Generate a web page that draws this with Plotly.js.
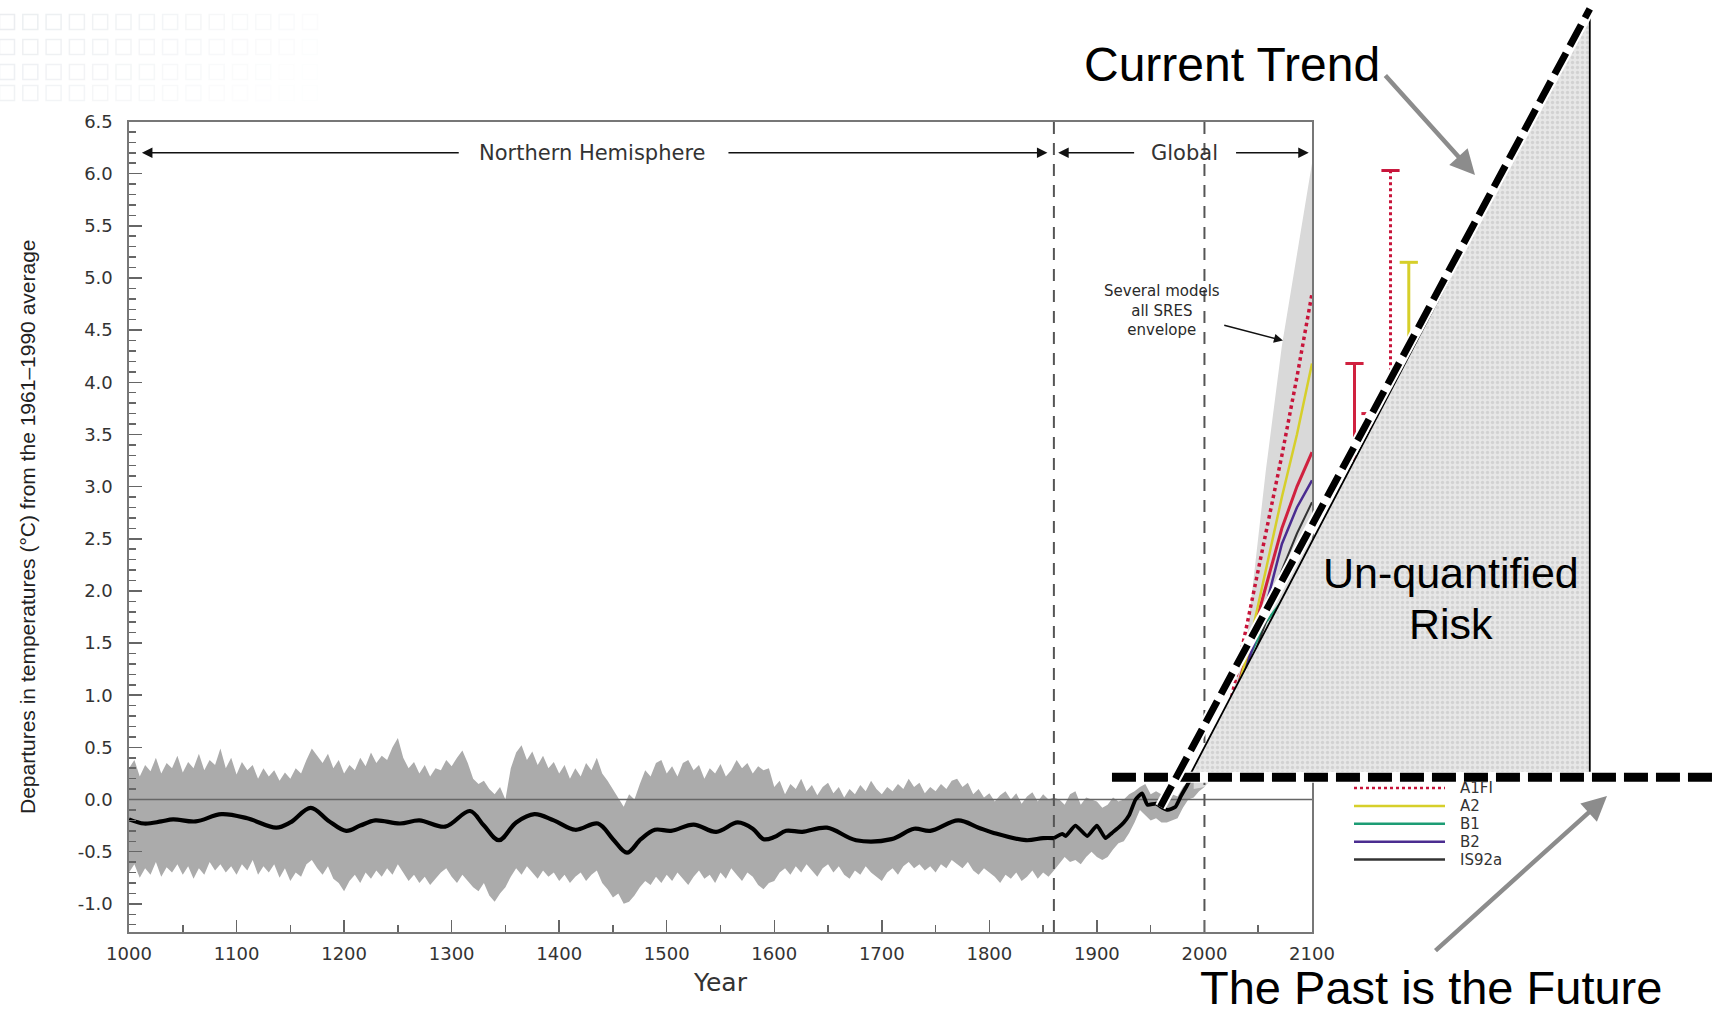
<!DOCTYPE html>
<html><head><meta charset="utf-8">
<script src="https://cdn.plot.ly/plotly-3.0.1.min.js"></script>
<style>html,body{margin:0;padding:0;background:#fff;}#chart{width:1716px;height:1016px;}</style>
</head><body><div id="chart"></div>
<script>
// ---------------- DATA ----------------
// Uncertainty band (Northern Hemisphere reconstruction 1000-1860, instrumental 1865-2000), 5-year steps
const bandStart = 1000, bandStep = 5;
const bandUpper = [
 0.30,0.38,0.22,0.33,0.27,0.40,0.25,0.35,0.30,0.42,0.26,0.36,0.30,0.44,0.28,0.38,0.33,0.49,0.30,0.40,
 0.24,0.36,0.28,0.33,0.20,0.30,0.22,0.28,0.18,0.26,0.20,0.30,0.25,0.38,0.49,0.42,0.35,0.44,0.30,0.38,
 0.25,0.33,0.28,0.40,0.32,0.45,0.35,0.42,0.38,0.50,0.59,0.40,0.30,0.36,0.25,0.33,0.22,0.30,0.28,0.38,
 0.32,0.40,0.47,0.35,0.20,0.15,0.18,0.10,0.05,0.12,0.00,0.30,0.45,0.52,0.38,0.46,0.33,0.42,0.30,0.36,
 0.25,0.33,0.20,0.30,0.22,0.35,0.28,0.40,0.25,0.18,0.10,0.02,-0.07,0.05,0.00,0.15,0.28,0.22,0.35,0.38,
 0.25,0.32,0.22,0.35,0.38,0.28,0.33,0.20,0.30,0.25,0.34,0.22,0.28,0.38,0.30,0.35,0.25,0.32,0.28,0.30,
 0.12,0.18,0.05,0.15,0.10,0.20,0.08,0.14,0.04,0.12,0.16,0.06,0.12,0.02,0.10,0.05,0.14,0.08,0.18,0.10,
 0.05,0.12,0.08,0.15,0.10,0.20,0.12,0.16,0.06,0.12,0.08,0.15,0.10,0.18,0.20,0.12,0.16,0.05,0.10,0.02,
 0.06,-0.02,0.04,0.08,0.00,0.06,-0.04,0.03,0.07,-0.02,0.05,0.00,0.02,0.00,-0.05,0.05,0.08,-0.05,0.02,0.00,
 -0.02,-0.08,-0.05,0.02,-0.02,0.00,0.05,0.08,0.12,0.15,0.05,0.08,0.05,0.02,0.05,0.03,0.12,0.18,0.25,0.30,
 0.32];
const bandLower = [
 -0.70,-0.62,-0.75,-0.66,-0.72,-0.60,-0.74,-0.65,-0.70,-0.62,-0.72,-0.64,-0.76,-0.66,-0.72,-0.60,-0.68,-0.62,-0.70,-0.64,
 -0.72,-0.62,-0.68,-0.58,-0.72,-0.64,-0.70,-0.62,-0.75,-0.66,-0.78,-0.70,-0.74,-0.62,-0.58,-0.66,-0.72,-0.64,-0.76,-0.80,
 -0.88,-0.78,-0.72,-0.80,-0.70,-0.76,-0.68,-0.74,-0.66,-0.72,-0.62,-0.70,-0.78,-0.72,-0.80,-0.74,-0.82,-0.76,-0.70,-0.66,
 -0.74,-0.80,-0.72,-0.78,-0.84,-0.88,-0.80,-0.92,-0.98,-0.90,-0.84,-0.74,-0.66,-0.72,-0.64,-0.70,-0.76,-0.68,-0.74,-0.70,
 -0.78,-0.72,-0.80,-0.74,-0.70,-0.78,-0.72,-0.68,-0.80,-0.86,-0.94,-0.90,-1.00,-0.98,-0.92,-0.84,-0.78,-0.82,-0.74,-0.80,
 -0.72,-0.78,-0.70,-0.76,-0.82,-0.74,-0.68,-0.76,-0.72,-0.80,-0.70,-0.76,-0.66,-0.72,-0.78,-0.70,-0.74,-0.82,-0.86,-0.80,
 -0.78,-0.70,-0.66,-0.72,-0.64,-0.70,-0.62,-0.68,-0.74,-0.66,-0.62,-0.70,-0.64,-0.72,-0.76,-0.68,-0.72,-0.64,-0.70,-0.74,
 -0.78,-0.70,-0.66,-0.72,-0.64,-0.60,-0.66,-0.62,-0.68,-0.64,-0.70,-0.62,-0.66,-0.58,-0.62,-0.66,-0.60,-0.68,-0.72,-0.66,
 -0.70,-0.74,-0.80,-0.72,-0.76,-0.70,-0.78,-0.74,-0.68,-0.76,-0.70,-0.74,-0.68,-0.62,-0.55,-0.60,-0.58,-0.62,-0.55,-0.50,
 -0.55,-0.58,-0.55,-0.48,-0.42,-0.40,-0.32,-0.22,-0.10,-0.15,-0.20,-0.18,-0.22,-0.22,-0.20,-0.18,-0.08,0.00,0.02,0.08,
 0.12];
const bandYears = bandUpper.map((_, i) => bandStart + i * bandStep);

// Smoothed reconstruction (black line)
const reconYears = [1000,1014,1030,1041,1062,1086,1110,1137,1150,1169,1185,1202,1215,1229,1252,1270,1294,1317,1330,1344,1360,1377,1395,1415,1436,1450,1463,1476,1489,1504,1525,1546,1566,1580,1590,1600,1611,1626,1649,1676,1709,1730,1745,1771,1790,1804,1834,1850,1860];
const reconVals  = [-0.19,-0.23,-0.21,-0.19,-0.21,-0.14,-0.18,-0.27,-0.22,-0.08,-0.20,-0.30,-0.25,-0.20,-0.23,-0.20,-0.26,-0.11,-0.25,-0.39,-0.22,-0.14,-0.20,-0.29,-0.23,-0.38,-0.51,-0.38,-0.29,-0.30,-0.24,-0.31,-0.22,-0.28,-0.38,-0.36,-0.30,-0.31,-0.27,-0.39,-0.38,-0.28,-0.30,-0.20,-0.27,-0.32,-0.39,-0.37,-0.37];
// Instrumental record
const instYears = [1860,1868,1871,1880,1891,1900,1908,1914,1920,1925,1930,1936,1942,1947,1955,1961,1966,1973,1978,1983,1987,1995,2000];
const instVals  = [-0.37,-0.33,-0.35,-0.25,-0.35,-0.25,-0.37,-0.32,-0.27,-0.22,-0.15,0.00,0.06,-0.05,-0.04,-0.08,-0.10,-0.07,0.03,0.12,0.19,0.25,0.32];

// Several models, all SRES envelope
const envYears = [1990,2000,2020,2040,2057,2072,2100];
const envUpper = [0.25,0.32,0.75,1.60,3.15,4.35,6.10];
const envLower = [0.10,0.12,0.35,0.65,0.90,1.10,1.40];

// Scenario projections
const scenYears = [2000,2020,2040,2057,2072,2086,2100];
const scenA1FI  = [0.30,0.72,1.70,2.55,3.30,4.05,4.85];
const scenA2    = [0.30,0.65,1.40,2.20,2.90,3.50,4.18];
const scenA1B   = [0.30,0.70,1.40,2.05,2.60,3.00,3.33];
const scenB2    = [0.30,0.62,1.30,1.85,2.45,2.80,3.06];
const scenIS92a = [0.30,0.60,1.20,1.70,2.20,2.55,2.85];
const scenB1    = [0.30,0.72,1.33,1.70,1.90,2.00,2.10];

// Range bars for 2100 (right of the panel)
const barYears  = [2139.5,2154.4,2173,2190];
const barTop    = [4.18,3.70,6.03,5.15];
const barBottom = [2.60,2.30,3.30,2.90];

// Legend
const legendLabels = ['A1FI','A2','B1','B2','IS92a'];

// Overlay ("Current Trend" / "Past is the Future")
const triX = [1985.7,2358.3,2358.3];
const triY = [0.22,7.57,0.22];
const trendX = [1959,2358.3];
const trendY = [-0.07,7.58];
const flatStartYear = 1914;
const flatLevel = 0.213;

const dividerYears = [1860,2000];
const yTickVals = [-1.0,-0.5,0.0,0.5,1.0,1.5,2.0,2.5,3.0,3.5,4.0,4.5,5.0,5.5,6.0,6.5];
const yTickText = ['-1.0','-0.5','0.0','0.5','1.0','1.5','2.0','2.5','3.0','3.5','4.0','4.5','5.0','5.5','6.0','6.5'];

// ---------------- LAYOUT GEOMETRY ----------------
const W = 1716, H = 1016;
const box = {l:129, r:1312, t:121.5, b:932};
const xRange = [1000,2100], yRange = [-1.27,6.5];
const xDom = [box.l/W, box.r/W], yDom = [1-box.b/H, 1-box.t/H];
const xsc = (xRange[1]-xRange[0])/(xDom[1]-xDom[0]);
const ysc = (yRange[1]-yRange[0])/(yDom[1]-yDom[0]);
const x2Range = [xRange[0]-xDom[0]*xsc, xRange[1]+(1-xDom[1])*xsc];
const y2Range = [yRange[0]-yDom[0]*ysc, yRange[1]+(1-yDom[1])*ysc];
const pxX = px => x2Range[0] + px/W*(x2Range[1]-x2Range[0]);
const pxY = py => y2Range[1] - py/H*(y2Range[1]-y2Range[0]);
const papX = px => px/W, papY = py => 1-py/H;

const red = '#d0213f', redDot = '#c8143a', yellow = '#d6cf2a', green = '#1c9c74', purple = '#4a2c90', dark = '#333333';

const traces = [];
const skip = {hoverinfo:'skip', showlegend:false};

// band
traces.push(Object.assign({x:bandYears, y:bandLower, mode:'lines', line:{width:0,color:'#ababab'}}, skip));
traces.push(Object.assign({x:bandYears, y:bandUpper, mode:'lines', line:{width:0,color:'#ababab'}, fill:'tonexty', fillcolor:'#ababab'}, skip));
// envelope
traces.push(Object.assign({x:envYears, y:envLower, mode:'lines', line:{width:0,color:'#d8d8d8'}}, skip));
traces.push(Object.assign({x:envYears, y:envUpper, mode:'lines', line:{width:0,color:'#d8d8d8'}, fill:'tonexty', fillcolor:'#d9d9d9'}, skip));
// zero line
traces.push(Object.assign({x:xRange, y:[0,0], mode:'lines', line:{width:1.5,color:'#666'}}, skip));
// dividers
dividerYears.forEach(yr => traces.push(Object.assign({x:[yr,yr], y:yRange, mode:'lines', line:{width:2,color:'#555',dash:'12px,9px'}}, skip)));
// scenario lines
const scen = [
  [scenB1, green, 'solid', 2.5], [scenIS92a, dark, 'solid', 2], [scenB2, purple, 'solid', 2.5],
  [scenA1B, red, 'solid', 3], [scenA2, yellow, 'solid', 2.5], [scenA1FI, redDot, 'dot', 3.5]
];
scen.forEach(s => traces.push(Object.assign({x:scenYears, y:s[0], mode:'lines', line:{width:s[3], color:s[1], dash:s[2]}}, skip)));
// reconstruction + instrumental
traces.push(Object.assign({x:reconYears, y:reconVals, mode:'lines', line:{width:4.2,color:'#000',shape:'spline',smoothing:1}}, skip));
traces.push(Object.assign({x:instYears, y:instVals, mode:'lines', line:{width:3.8,color:'#000',shape:'spline',smoothing:0.5}}, skip));

// ---------- overlay (x2/y2 span the whole page) ----------
const ov = {xaxis:'x2', yaxis:'y2'};
// faint slide-background squares (top-left)
const sqX = [], sqY = [], sqC = [];
[22,47,72,93].forEach((ry, r) => {
  for (let c = 0; c < 14; c++) {
    const a = Math.max(0.04, 0.5 - c*0.03 - r*0.04);
    sqX.push(pxX(7 + 23.3*c)); sqY.push(pxY(ry));
    sqC.push('rgba(215,220,226,' + a.toFixed(3) + ')');
  }
});
traces.push(Object.assign({x:sqX, y:sqY, mode:'markers', marker:{symbol:'square-open', size:15, color:sqC, line:{width:1.5}}}, ov, skip));

// range bars
const barColors = [red, red, redDot, yellow];
const barDash = ['solid','solid','dot','solid'];
barYears.forEach((yr, i) => {
  traces.push(Object.assign({x:[yr,yr], y:[barBottom[i], barTop[i]], mode:'lines', line:{width:3, color:barColors[i], dash:barDash[i]}}, ov, skip));
  traces.push(Object.assign({x:[yr], y:[barTop[i]], mode:'markers', marker:{symbol:'line-ew', size:13, line:{width:3, color:barColors[i]}}}, ov, skip));
});

// legend lines
const legColors = [redDot, yellow, green, purple, dark];
const legDash = ['dot','solid','solid','solid','solid'];
const legTop = 788, legStep = 17.9, legX0 = 1354, legX1 = 1445, legTextX = 1459;
legendLabels.forEach((lab, i) => {
  const yy = pxY(legTop + i*legStep);
  traces.push(Object.assign({x:[pxX(legX0), pxX(legX1)], y:[yy,yy], mode:'lines', line:{width:2.5, color:legColors[i], dash:legDash[i]}}, ov, skip));
});

// triangle
traces.push(Object.assign({x:triX.concat([triX[0]]), y:triY.concat([triY[0]]), mode:'lines', line:{width:0,color:'#e4e4e4'}, fill:'toself', fillcolor:'#e4e4e4',
  fillpattern:{shape:'.', bgcolor:'#e7e7e7', fgcolor:'#d2d2d2', size:5, solidity:0.35}}, ov, skip));
traces.push(Object.assign({x:triX, y:triY, mode:'lines', line:{width:1.8,color:'#000'}}, ov, skip));
// flat "past is the future" line
traces.push(Object.assign({x:[flatStartYear, x2Range[1]], y:[flatLevel, flatLevel], mode:'lines', line:{width:11,color:'#fff'}}, ov, skip));
traces.push(Object.assign({x:[flatStartYear, x2Range[1]], y:[flatLevel, flatLevel], mode:'lines', line:{width:9,color:'#000',dash:'24px,8px'}}, ov, skip));
// current trend line
traces.push(Object.assign({x:trendX, y:trendY, mode:'lines', line:{width:11,color:'#fff'}}, ov, skip));
traces.push(Object.assign({x:trendX, y:trendY, mode:'lines', line:{width:7,color:'#000',dash:'24px,8px'}}, ov, skip));

// ---------------- ANNOTATIONS ----------------
const ann = [];
const arrowY = 6.2;
const arrows = [[1012,1308],[1854,1556],[1864,1936],[2097,2028]];
arrows.forEach(a => ann.push({xref:'x', yref:'y', axref:'x', ayref:'y', x:a[0], y:arrowY, ax:a[1], ay:arrowY, text:'', showarrow:true, arrowhead:2, arrowsize:1.4, arrowwidth:1.5, arrowcolor:'#111'}));
const labFont = {family:'DejaVu Sans', size:21, color:'#333'};
ann.push({xref:'x', yref:'y', x:1431, y:arrowY, text:'Northern Hemisphere', showarrow:false, font:labFont});
ann.push({xref:'x', yref:'y', x:1981, y:arrowY, text:'Global', showarrow:false, font:labFont});
ann.push({xref:'paper', yref:'paper', x:papX(1162), y:papY(310), text:'Several models<br>all SRES<br>envelope', showarrow:false, xanchor:'center', yanchor:'middle', align:'center', borderpad:0, font:{family:'DejaVu Sans', size:15, color:'#2a2a2a'}});
ann.push({xref:'x', yref:'y', axref:'x', ayref:'y', x:2073, y:4.40, ax:2017, ay:4.55, text:'', showarrow:true, arrowhead:2, arrowsize:1.2, arrowwidth:1.5, arrowcolor:'#111'});
legendLabels.forEach((lab, i) => ann.push({xref:'paper', yref:'paper', x:papX(legTextX), y:papY(legTop + i*legStep), text:lab, showarrow:false, xanchor:'left', yanchor:'middle', borderpad:0, font:{family:'DejaVu Sans', size:15, color:'#333'}}));
ann.push({xref:'paper', yref:'paper', x:papX(1232), y:papY(64), text:'Current Trend', showarrow:false, xanchor:'center', yanchor:'middle', font:{family:'Liberation Sans', size:48, color:'#000'}});
ann.push({xref:'paper', yref:'paper', x:papX(1451), y:papY(573), text:'Un-quantified', showarrow:false, xanchor:'center', yanchor:'middle', font:{family:'Liberation Sans', size:43, color:'#000'}});
ann.push({xref:'paper', yref:'paper', x:papX(1451), y:papY(624), text:'Risk', showarrow:false, xanchor:'center', yanchor:'middle', font:{family:'Liberation Sans', size:43, color:'#000'}});
ann.push({xref:'paper', yref:'paper', x:papX(1431), y:papY(1015), text:'The Past is the Future', showarrow:false, xanchor:'center', yanchor:'bottom', borderpad:0, font:{family:'Liberation Sans', size:47, color:'#000'}});
ann.push({xref:'paper', yref:'paper', x:papX(1475), y:papY(175), ax:1384-1475, ay:74-175, text:'', showarrow:true, arrowhead:2, arrowsize:1.1, arrowwidth:4.5, arrowcolor:'#8c8c8c'});
ann.push({xref:'paper', yref:'paper', x:papX(1607), y:papY(796), ax:1434-1607, ay:952-796, text:'', showarrow:true, arrowhead:2, arrowsize:1.1, arrowwidth:4.5, arrowcolor:'#8c8c8c'});

const tickFont = {family:'DejaVu Sans', size:18, color:'#333'};
const layout = {
  width:W, height:H, margin:{l:0,r:0,t:0,b:0}, paper_bgcolor:'#fff', plot_bgcolor:'rgba(0,0,0,0)', showlegend:false,
  xaxis:{domain:xDom, range:xRange, anchor:'y', automargin:false, showline:true, mirror:true, linecolor:'#777', linewidth:1.6,
    ticks:'inside', ticklen:12, tickwidth:1.5, tickcolor:'#666', tick0:1000, dtick:100, tickfont:tickFont, ticklabelstandoff:5,
    minor:{ticks:'inside', dtick:50, tick0:1000, ticklen:7, tickwidth:1.5, tickcolor:'#666', showgrid:false},
    showgrid:false, zeroline:false, fixedrange:true,
    title:{text:'Year', font:{family:'DejaVu Sans', size:25, color:'#333'}, standoff:10}},
  yaxis:{domain:yDom, range:yRange, anchor:'x', automargin:false, showline:true, mirror:true, linecolor:'#777', linewidth:1.6,
    ticks:'inside', ticklen:13, tickwidth:1.5, tickcolor:'#666', tickmode:'array', tickvals:yTickVals, ticktext:yTickText, tickfont:tickFont, ticklabelstandoff:11,
    minor:{ticks:'inside', tickmode:'linear', tick0:0, dtick:0.1, ticklen:7, tickwidth:1.5, tickcolor:'#666', showgrid:false},
    showgrid:false, zeroline:false, fixedrange:true,
    title:{text:'Departures in temperatures (°C) from the 1961–1990 average', font:{family:'Liberation Sans', size:21, color:'#222'}, standoff:36}},
  xaxis2:{domain:[0,1], range:x2Range, anchor:'y2', visible:false, fixedrange:true},
  yaxis2:{domain:[0,1], range:y2Range, anchor:'x2', visible:false, fixedrange:true},
  annotations:ann
};
Plotly.newPlot('chart', traces, layout, {staticPlot:true, displayModeBar:false});
</script></body></html>
